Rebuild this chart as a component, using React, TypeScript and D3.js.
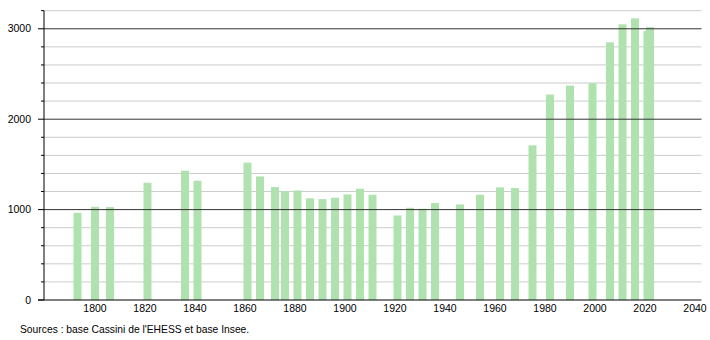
import React from "react";
import * as d3 from "d3";

const years = [1793, 1800, 1806, 1821, 1836, 1841, 1861, 1866, 1872, 1876, 1881, 1886, 1891, 1896, 1901, 1906, 1911, 1921, 1926, 1931, 1936, 1946, 1954, 1962, 1968, 1975, 1982, 1990, 1999, 2006, 2011, 2016, 2021, 2022];
const population = [965, 1031, 1028, 1297, 1430, 1319, 1519, 1367, 1249, 1205, 1212, 1125, 1116, 1131, 1168, 1231, 1164, 935, 1020, 1009, 1072, 1057, 1164, 1245, 1238, 1711, 2273, 2372, 2398, 2850, 3049, 3115, 2975, 3018];
const xTicks = [1800, 1820, 1840, 1860, 1880, 1900, 1920, 1940, 1960, 1980, 2000, 2020, 2040];
const yMajor = [0, 1000, 2000, 3000];
const yMinor = [200, 400, 600, 800, 1200, 1400, 1600, 1800, 2200, 2400, 2600, 2800, 3200];
const sourceText = "Sources : base Cassini de l'EHESS et base Insee.";

export default function App() {
  const W = 710, H = 340;
  const left = 44, right = 701.5, top = 10.7, bottom = 300;
  const x = d3.scaleLinear().domain([1779.6, 2042.6]).range([left, right]);
  const y = d3.scaleLinear().domain([0, 3200]).range([bottom, top]);
  const font = "'Liberation Sans', Arial, sans-serif";
  const barW = 8;
  return (
    <svg width={W} height={H} style={{ position: "absolute", left: 0, top: 0, background: "#fff" }} fontFamily={font}>
      {yMinor.map((v) => (
        <g key={"mi" + v}>
          <line x1={left} x2={right} y1={y(v)} y2={y(v)} stroke="#cccccc" strokeWidth={1} />
          <line x1={left - 3} x2={left} y1={y(v)} y2={y(v)} stroke="#000" strokeWidth={1} />
        </g>
      ))}
      {population.map((p, i) => (
        <rect key={"b" + years[i]} x={x(years[i]) - barW / 2} y={y(p)} width={barW} height={bottom - y(p)} fill="#b0e2b0" />
      ))}
      {yMajor.filter((v) => v > 0).map((v) => (
        <line key={"ma" + v} x1={left} x2={right} y1={y(v)} y2={y(v)} stroke="#333333" strokeWidth={1} />
      ))}
      {yMajor.map((v) => (
        <g key={"yl" + v}>
          <line x1={left - 6} x2={left} y1={y(v)} y2={y(v)} stroke="#000" strokeWidth={1} />
          <text x={31} y={y(v)} dy="0.35em" textAnchor="end" fontSize={10.5} fill="#000">{v}</text>
        </g>
      ))}
      <line x1={left} x2={left} y1={top} y2={bottom} stroke="#000" strokeWidth={1} />
      <line x1={left - 6} x2={right} y1={bottom} y2={bottom} stroke="#000" strokeWidth={1} />
      {xTicks.map((t) => (
        <text key={"xl" + t} x={x(t)} y={308.5} dy="0.35em" textAnchor="middle" fontSize={10.5} fill="#000">{t}</text>
      ))}
      <text x={20} y={329} dy="0.35em" fontSize={10.3} fill="#000">{sourceText}</text>
    </svg>
  );
}
